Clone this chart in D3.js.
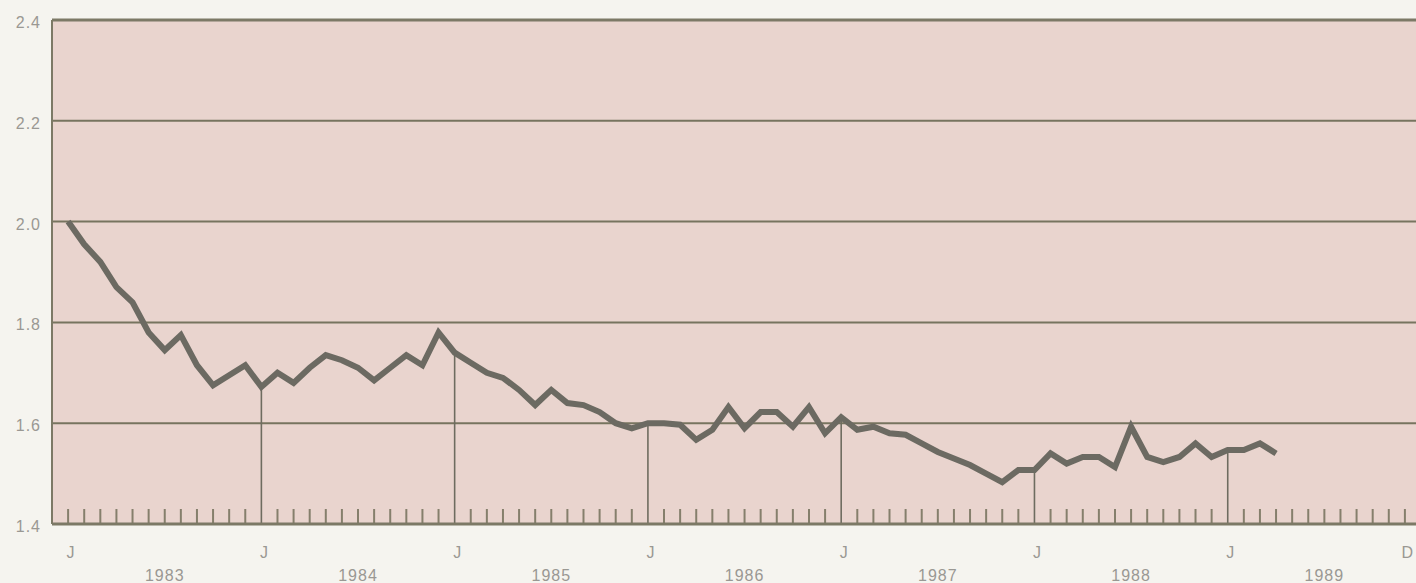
<!DOCTYPE html>
<html>
<head>
<meta charset="utf-8">
<script src="https://cdn.jsdelivr.net/npm/d3@7"></script>
<style>
  html, body { margin: 0; padding: 0; background: #f5f4ef; }
  svg { display: block; }
  text { font-family: "Liberation Sans", Arial, sans-serif; fill: #9a9893; letter-spacing: 1px; }
</style>
</head>
<body>
<svg id="chart" width="1416" height="583"></svg>
<script>
// Monthly values, January 1983 through April 1989
const values = [
  2.00, 1.955, 1.92, 1.87, 1.84, 1.78, 1.745, 1.775, 1.715, 1.675, 1.695, 1.715,
  1.672, 1.70, 1.68, 1.71, 1.735, 1.725, 1.71, 1.685, 1.71, 1.735, 1.715, 1.78,
  1.74, 1.72, 1.70, 1.69, 1.666, 1.636, 1.666, 1.64, 1.636, 1.622, 1.60, 1.59,
  1.60, 1.60, 1.597, 1.567, 1.587, 1.632, 1.59, 1.622, 1.622, 1.593, 1.632, 1.58,
  1.612, 1.587, 1.593, 1.58, 1.577, 1.56, 1.543, 1.53, 1.517, 1.50, 1.483, 1.507,
  1.507, 1.54, 1.52, 1.533, 1.533, 1.513, 1.593, 1.533, 1.523, 1.533, 1.56, 1.533,
  1.547, 1.547, 1.56, 1.54
];
const yTicks = [1.4, 1.6, 1.8, 2.0, 2.2, 2.4];
const yTickLabels = ["1.4", "1.6", "1.8", "2.0", "2.2", "2.4"];
const years = ["1983", "1984", "1985", "1986", "1987", "1988", "1989"];
const monthMarks = [
  {m: 0, label: "J"}, {m: 12, label: "J"}, {m: 24, label: "J"}, {m: 36, label: "J"},
  {m: 48, label: "J"}, {m: 60, label: "J"}, {m: 72, label: "J"}, {m: 83, label: "D"}
];

const svg = d3.select("#chart");
const x = d3.scaleLinear().domain([-1, 84]).range([52, 1421]);
const y = d3.scaleLinear().domain([1.4, 2.4]).range([524, 20]);

// plot background
svg.append("rect")
  .attr("x", x(-1)).attr("y", y(2.4))
  .attr("width", x(84) - x(-1)).attr("height", y(1.4) - y(2.4))
  .attr("fill", "#e9d4ce");

// horizontal rules
svg.append("g").selectAll("line")
  .data(yTicks.filter(v => v > 1.4 && v < 2.4))
  .join("line")
  .attr("x1", x(-1)).attr("x2", x(84))
  .attr("y1", d => y(d)).attr("y2", d => y(d))
  .attr("stroke", "#77745f").attr("stroke-width", 2);

// frame: top and left
svg.append("line").attr("x1", x(-1)).attr("x2", x(84))
  .attr("y1", y(2.4)).attr("y2", y(2.4))
  .attr("stroke", "#7c7966").attr("stroke-width", 3);
svg.append("line").attr("x1", x(-1)).attr("x2", x(-1))
  .attr("y1", y(2.4)).attr("y2", y(1.4))
  .attr("stroke", "#7c7966").attr("stroke-width", 2);

// month ticks along the base
const monthIdx = d3.range(0, 85).filter(m => m % 12 !== 0 || m === 0);
svg.append("g").selectAll("line")
  .data(monthIdx)
  .join("line")
  .attr("x1", d => x(d)).attr("x2", d => x(d))
  .attr("y1", y(1.4)).attr("y2", y(1.4) - 15)
  .attr("stroke", "#857f6c").attr("stroke-width", 2);

// January drop lines from the series to the base
const drops = d3.range(12, values.length, 12);
svg.append("g").selectAll("line")
  .data(drops)
  .join("line")
  .attr("x1", d => x(d)).attr("x2", d => x(d))
  .attr("y1", y(1.4)).attr("y2", d => y(values[d]))
  .attr("stroke", "#6e6c60").attr("stroke-width", 1.6);

// base line
svg.append("line").attr("x1", x(-1)).attr("x2", x(84))
  .attr("y1", y(1.4)).attr("y2", y(1.4))
  .attr("stroke", "#7c7966").attr("stroke-width", 3);

// series line
svg.append("path")
  .datum(values)
  .attr("fill", "none")
  .attr("stroke", "#6c6a62")
  .attr("stroke-width", 6)
  .attr("stroke-linejoin", "miter")
  .attr("stroke-linecap", "butt")
  .attr("d", d3.line().x((d, i) => x(i)).y(d => y(d)));

// y labels
svg.append("g").selectAll("text")
  .data(yTicks)
  .join("text")
  .attr("x", 41).attr("y", d => y(d) + 8)
  .attr("text-anchor", "end")
  .attr("font-size", 16)
  .text((d, i) => yTickLabels[i]);

// month letters
svg.append("g").selectAll("text")
  .data(monthMarks)
  .join("text")
  .attr("x", d => x(d.m) + 3).attr("y", 558)
  .attr("text-anchor", "middle")
  .attr("font-size", 16)
  .text(d => d.label);

// year labels centred on mid-year
svg.append("g").selectAll("text")
  .data(years)
  .join("text")
  .attr("x", (d, i) => x(i * 12 + 6)).attr("y", 581)
  .attr("text-anchor", "middle")
  .attr("font-size", 16)
  .text(d => d);
</script>
</body>
</html>
